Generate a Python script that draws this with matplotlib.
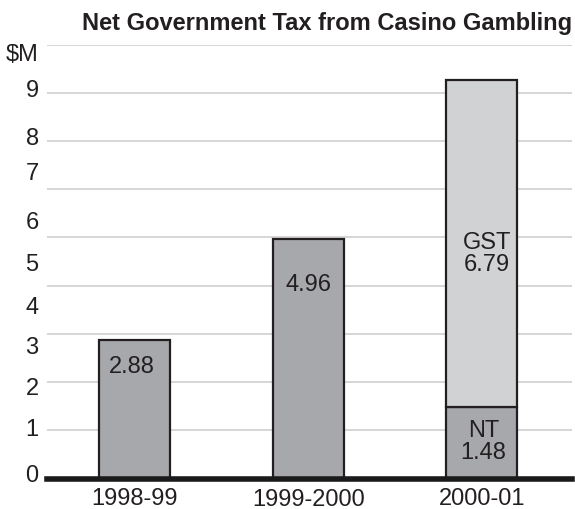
import matplotlib.pyplot as plt

# Net government tax from casino gambling, $M
years = ["1998-99", "1999-2000", "2000-01"]
total_tax = [2.88, 4.96, None]
nt_tax = 1.48
gst_tax = 6.79

y_labels = ["0", "1", "2", "3", "4", "5", "6", "7", "8", "9", "$M"]
y_label_pos = [0.13, 1.07, 1.92, 2.79, 3.62, 4.5, 5.38, 6.39, 7.12, 8.12, 8.85]
grid_levels = [1, 2, 3, 4, 5, 6, 7, 8, 9]

plt.rcParams["font.family"] = ["Liberation Sans", "DejaVu Sans"]

DARK = "#a7a8ab"
LIGHT = "#d1d2d4"
EDGE = "#231f20"
TEXT = "#231f20"
FS = 17

fig = plt.figure(figsize=(5.75, 5.1), dpi=100)
ax = fig.add_axes([0.0817, 0.0598, 0.9131, 0.8506])

x = list(range(len(years)))
width = 0.41

for lvl in grid_levels:
    ax.axhline(lvl, color="#d3d3d3", linewidth=1.3, zorder=0)

ax.bar(x[:2], total_tax[:2], width=width, color=DARK,
       edgecolor=EDGE, linewidth=1.6, zorder=2)
ax.bar(x[2], nt_tax, width=width, color=DARK,
       edgecolor=EDGE, linewidth=1.6, zorder=2)
ax.bar(x[2], gst_tax, bottom=nt_tax, width=width, color=LIGHT,
       edgecolor=EDGE, linewidth=1.6, zorder=2)

# value labels inside the bars
ax.text(x[0] - 0.02, total_tax[0] - 0.55, f"{total_tax[0]:.2f}",
        ha="center", va="center", fontsize=FS, color=TEXT, zorder=3)
ax.text(x[1], total_tax[1] - 0.93, f"{total_tax[1]:.2f}",
        ha="center", va="center", fontsize=FS, color=TEXT, zorder=3)
ax.text(x[2] + 0.03, nt_tax + 3.2, f"GST\n{gst_tax:.2f}",
        ha="center", va="center", fontsize=FS, color=TEXT,
        linespacing=1.0, zorder=3)
ax.text(x[2] + 0.01, nt_tax - 0.71, f"NT\n{nt_tax:.2f}",
        ha="center", va="center", fontsize=FS, color=TEXT,
        linespacing=1.0, zorder=3)

ax.set_xlim(-0.507, 2.52)
ax.set_ylim(0, 9)

ax.set_yticks([])
ax.set_yticks(y_label_pos, y_labels, minor=True)
ax.tick_params(axis="y", which="minor", length=0, pad=6,
               labelsize=FS, labelcolor=TEXT)

ax.set_xticks(x, years)
ax.tick_params(axis="x", length=0, pad=6, labelsize=FS, labelcolor=TEXT)
ax.get_xticklabels()[1].set_y(-0.003)

for side in ["top", "right", "left"]:
    ax.spines[side].set_visible(False)
ax.spines["bottom"].set_linewidth(4)
ax.spines["bottom"].set_color("#1a1a1a")
ax.spines["bottom"].set_zorder(4)

ax.set_title("Net Government Tax from Casino Gambling", loc="right",
             fontsize=FS, fontweight="bold", color=TEXT, pad=11)

fig.savefig("out.png", dpi=100)
